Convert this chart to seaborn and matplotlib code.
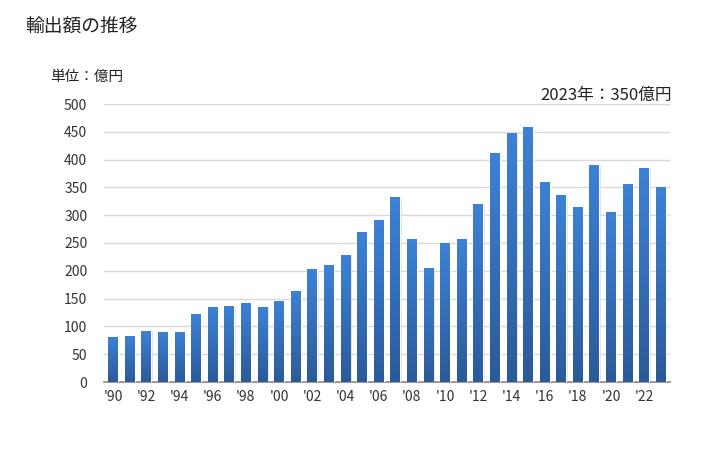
import numpy as np
import pandas as pd
import matplotlib
matplotlib.use("Agg")
import matplotlib.pyplot as plt
import seaborn as sns
from matplotlib.colors import LinearSegmentedColormap

years = list(range(1990, 2024))
values = [81, 83, 92, 90, 90, 122, 135, 137, 142, 135, 146,
          164, 203, 210, 228, 269, 291, 332, 257, 205, 250, 257,
          320, 411, 447, 458, 359, 336, 314, 391, 305, 357, 384, 350]
tick_labels = ["'" + str(y)[2:] if y % 2 == 0 else "" for y in years]
yticks = [0, 50, 100, 150, 200, 250, 300, 350, 400, 450, 500]

title = "輸出額の推移"
unit_label = "単位：億円"
note = "2023年：350億円"

sns.set_theme(style="white")
plt.rcParams['font.family'] = ['Noto Sans CJK JP', 'DejaVu Sans']

df = pd.DataFrame({"year": [str(y) for y in years], "value": values})

fig = plt.figure(figsize=(7.28, 4.5), dpi=100)
ax = fig.add_axes([104/728, 1-382/450, (670-104)/728, (382-104)/450])

sns.barplot(data=df, x="year", y="value", ax=ax, color="#3a78c8", width=0.6,
            saturation=1, zorder=3)

# gradient fill
cmap = LinearSegmentedColormap.from_list("g", ["#2c5a98", "#3d82d6"])
grad = np.linspace(0, 1, 256).reshape(-1, 1)
for p in ax.patches:
    x0, y0 = p.get_x(), p.get_y()
    w, h = p.get_width(), p.get_height()
    ax.add_patch(plt.Rectangle((x0 + 0.08, y0), w, h, color="#d0d0d0", alpha=0.6, zorder=2, lw=0))
    im = ax.imshow(grad, extent=(x0, x0 + w, y0, y0 + h), origin="lower",
                   cmap=cmap, aspect="auto", zorder=4)
    im.set_clip_path(p)

ax.set_xlim(-0.55, 33.55)
ax.set_ylim(0, 500)
ax.set_yticks(yticks)
ax.set_yticklabels([str(t) for t in yticks])
ax.set_xticks(range(len(years)))
ax.set_xticklabels(tick_labels)
ax.set_xlabel("")
ax.set_ylabel("")
ax.yaxis.grid(True, color="#d9d9d9", lw=1, zorder=0)
ax.set_axisbelow(True)
for s in ["top", "right", "left"]:
    ax.spines[s].set_visible(False)
ax.spines["bottom"].set_color("#888888")
ax.spines["bottom"].set_linewidth(1.2)
ax.tick_params(axis="both", length=0, labelsize=10, colors="#333333")
ax.tick_params(axis="y", pad=12)
ax.tick_params(axis="x", pad=6)

fig.text(25/728, 1-27/450, title, fontsize=13.5, va="center", ha="left", color="#222222")
fig.text(50/728, 1-77/450, unit_label, fontsize=10.5, va="center", ha="left", color="#222222")
fig.text(672/728, 1-95/450, note, fontsize=12, va="center", ha="right", color="#222222")

fig.savefig("out.png", dpi=100)
